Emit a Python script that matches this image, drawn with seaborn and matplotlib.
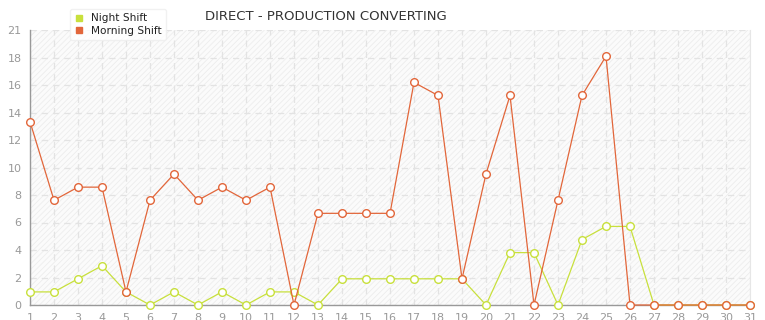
import matplotlib
matplotlib.use("Agg")
import matplotlib.pyplot as plt
import seaborn as sns
import pandas as pd
from matplotlib.lines import Line2D
from matplotlib.patches import Rectangle

days = list(range(1, 32))
night_shift = [1, 1, 2, 3, 1, 0, 1, 0, 1, 0, 1, 1, 0, 2, 2, 2,
               2, 2, 2, 0, 4, 4, 0, 5, 6, 6, 0, 0, 0, 0, 0]
morning_shift = [14, 8, 9, 9, 1, 8, 10, 8, 9, 8, 9, 0, 7, 7, 7, 7,
                 17, 16, 2, 10, 16, 0, 8, 16, 19, 0, 0, 0, 0, 0, 0]
series_names = ["Night Shift", "Morning Shift"]
y_max = 21
y_tick_labels = ["0", "2", "4", "6", "8", "10", "12", "14", "16", "18", "21"]
title = "DIRECT - PRODUCTION CONVERTING"

df = pd.DataFrame({
    "day": days * 2,
    "value": night_shift + morning_shift,
    "series": [series_names[0]] * len(days) + [series_names[1]] * len(days),
})

sns.set_style("white")
plt.rcParams["font.family"] = ["DejaVu Sans"]
plt.rcParams["hatch.linewidth"] = 0.6

fig = plt.figure(figsize=(7.65, 3.2), dpi=100)
ax = fig.add_axes([30 / 765, 15 / 320, 720 / 765, 275 / 320])
ax.set_facecolor("#fbfbfb")
bg = Rectangle((0, 0), 1, 1, transform=ax.transAxes, facecolor="none",
               edgecolor="#ededed", hatch="//////", linewidth=0, zorder=0)
ax.add_patch(bg)

palette = {"Night Shift": "#c8e03c", "Morning Shift": "#e2663a"}
sns.lineplot(data=df, x="day", y="value", hue="series", palette=palette, ax=ax,
             marker="o", markersize=5.5, markerfacecolor="white", markeredgewidth=1.0,
             linewidth=0.9, legend=False, clip_on=False, zorder=3)
for line in ax.lines:
    line.set_markeredgecolor(line.get_color())

ax.set_xlim(1, 31)
ax.set_ylim(0, y_max)
ax.set_xticks(days)
n = len(y_tick_labels) - 1
ax.set_yticks([y_max * i / n for i in range(n + 1)])
ax.set_yticklabels(y_tick_labels)
ax.grid(True, color="#e3e3e3", linestyle=(0, (5, 4)), linewidth=0.9)
ax.set_axisbelow(True)
ax.tick_params(axis="both", colors="#999999", labelsize=8, length=4, width=0.8, pad=2)
for s in ["left", "bottom"]:
    ax.spines[s].set_color("#999999")
    ax.spines[s].set_linewidth(1)
ax.spines["right"].set_color("#e6e6e6")
ax.spines["top"].set_visible(False)
ax.set_xlabel("")
ax.set_ylabel("")

handles = [Line2D([], [], marker="s", linestyle="none", color=palette[s], markersize=4.5) for s in series_names]
leg = ax.legend(handles, series_names, loc="upper left", bbox_to_anchor=(35 / 720, 1.095),
                frameon=True, fontsize=7.6, handlelength=0.8, handletextpad=0.8,
                labelspacing=0.25, borderpad=0.4, fancybox=True)
leg.get_frame().set_edgecolor("#eeeeee")
leg.get_frame().set_facecolor("white")
for t in leg.get_texts():
    t.set_color("#222222")

fig.text(205 / 765, 1 - 17 / 320, title, fontsize=9.5, color="#333333", va="center", ha="left")

fig.savefig("out.png", dpi=100)
